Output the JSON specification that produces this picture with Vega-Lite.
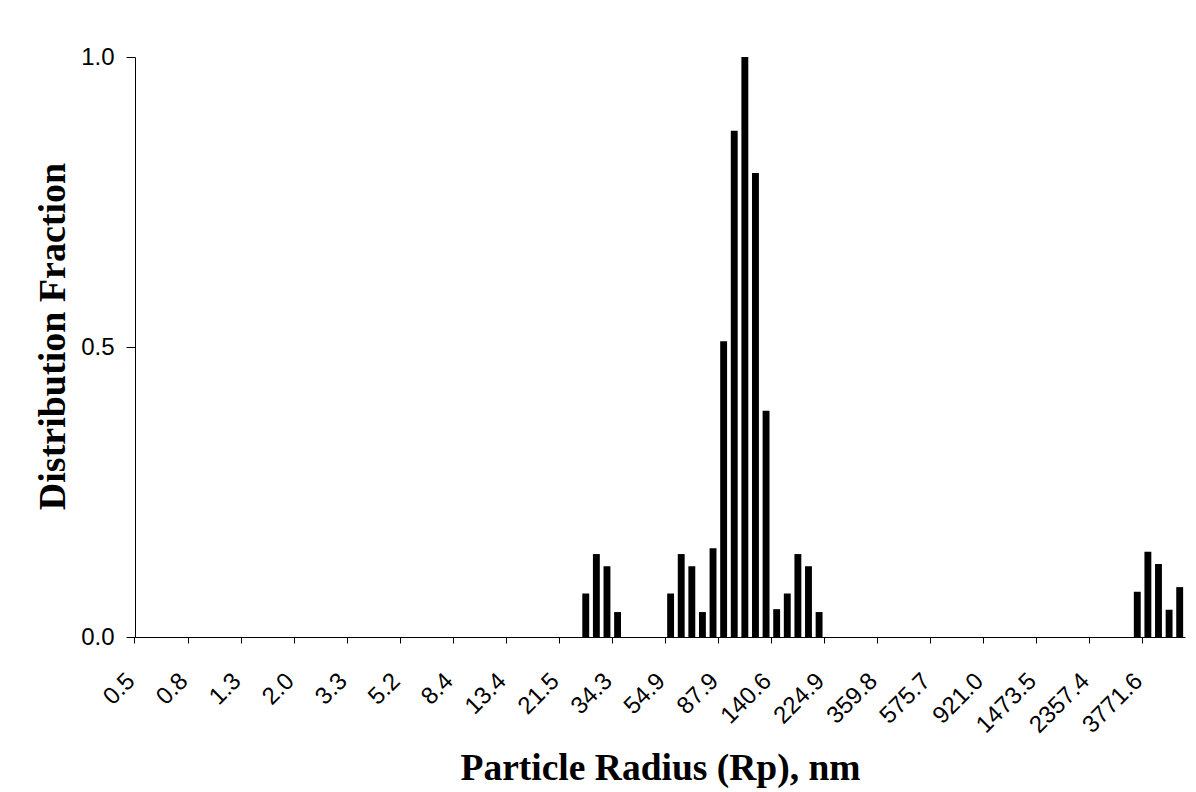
{
  "$schema": "https://vega.github.io/schema/vega-lite/v6.json",
  "width": 1050,
  "height": 580,
  "autosize": {"type": "none"},
  "padding": {"left": 135, "top": 57, "right": 11, "bottom": 155},
  "background": "white",
  "config": {"view": {"stroke": null}},
  "data": {"values": [
    {"radius": 0.5, "fraction": 0}, {"radius": 0.549, "fraction": 0}, {"radius": 0.603, "fraction": 0}, {"radius": 0.663, "fraction": 0}, {"radius": 0.728, "fraction": 0},
    {"radius": 0.8, "fraction": 0}, {"radius": 0.879, "fraction": 0}, {"radius": 0.965, "fraction": 0}, {"radius": 1.061, "fraction": 0}, {"radius": 1.165, "fraction": 0},
    {"radius": 1.28, "fraction": 0}, {"radius": 1.406, "fraction": 0}, {"radius": 1.544, "fraction": 0}, {"radius": 1.697, "fraction": 0}, {"radius": 1.864, "fraction": 0},
    {"radius": 2.047, "fraction": 0}, {"radius": 2.249, "fraction": 0}, {"radius": 2.471, "fraction": 0}, {"radius": 2.714, "fraction": 0}, {"radius": 2.981, "fraction": 0},
    {"radius": 3.276, "fraction": 0}, {"radius": 3.598, "fraction": 0}, {"radius": 3.953, "fraction": 0}, {"radius": 4.342, "fraction": 0}, {"radius": 4.77, "fraction": 0},
    {"radius": 5.24, "fraction": 0}, {"radius": 5.756, "fraction": 0}, {"radius": 6.324, "fraction": 0}, {"radius": 6.947, "fraction": 0}, {"radius": 7.632, "fraction": 0},
    {"radius": 8.384, "fraction": 0}, {"radius": 9.21, "fraction": 0}, {"radius": 10.117, "fraction": 0}, {"radius": 11.114, "fraction": 0}, {"radius": 12.209, "fraction": 0},
    {"radius": 13.412, "fraction": 0}, {"radius": 14.734, "fraction": 0}, {"radius": 16.186, "fraction": 0}, {"radius": 17.781, "fraction": 0}, {"radius": 19.533, "fraction": 0},
    {"radius": 21.458, "fraction": 0}, {"radius": 23.572, "fraction": 0}, {"radius": 25.895, "fraction": 0.075}, {"radius": 28.447, "fraction": 0.143}, {"radius": 31.25, "fraction": 0.122},
    {"radius": 34.329, "fraction": 0.043}, {"radius": 37.712, "fraction": 0}, {"radius": 41.428, "fraction": 0}, {"radius": 45.51, "fraction": 0}, {"radius": 49.995, "fraction": 0},
    {"radius": 54.921, "fraction": 0.075}, {"radius": 60.333, "fraction": 0.143}, {"radius": 66.278, "fraction": 0.122}, {"radius": 72.809, "fraction": 0.043}, {"radius": 79.984, "fraction": 0.153},
    {"radius": 87.865, "fraction": 0.51}, {"radius": 96.523, "fraction": 0.873}, {"radius": 106.035, "fraction": 1.0}, {"radius": 116.483, "fraction": 0.8}, {"radius": 127.962, "fraction": 0.39},
    {"radius": 140.57, "fraction": 0.048}, {"radius": 154.422, "fraction": 0.075}, {"radius": 169.639, "fraction": 0.143}, {"radius": 186.356, "fraction": 0.122}, {"radius": 204.72, "fraction": 0.043},
    {"radius": 224.89, "fraction": 0}, {"radius": 247.05, "fraction": 0}, {"radius": 271.4, "fraction": 0}, {"radius": 298.14, "fraction": 0}, {"radius": 327.52, "fraction": 0},
    {"radius": 359.79, "fraction": 0}, {"radius": 395.24, "fraction": 0}, {"radius": 434.19, "fraction": 0}, {"radius": 476.98, "fraction": 0}, {"radius": 523.98, "fraction": 0},
    {"radius": 575.7, "fraction": 0}, {"radius": 632.4, "fraction": 0}, {"radius": 694.7, "fraction": 0}, {"radius": 763.2, "fraction": 0}, {"radius": 838.4, "fraction": 0},
    {"radius": 921.0, "fraction": 0}, {"radius": 1011.8, "fraction": 0}, {"radius": 1111.5, "fraction": 0}, {"radius": 1221.0, "fraction": 0}, {"radius": 1341.3, "fraction": 0},
    {"radius": 1473.5, "fraction": 0}, {"radius": 1618.7, "fraction": 0}, {"radius": 1778.2, "fraction": 0}, {"radius": 1953.4, "fraction": 0}, {"radius": 2145.9, "fraction": 0},
    {"radius": 2357.4, "fraction": 0}, {"radius": 2589.7, "fraction": 0}, {"radius": 2844.9, "fraction": 0}, {"radius": 3125.2, "fraction": 0}, {"radius": 3433.2, "fraction": 0.078},
    {"radius": 3771.6, "fraction": 0.147}, {"radius": 4143.3, "fraction": 0.126}, {"radius": 4551.5, "fraction": 0.047}, {"radius": 5000.0, "fraction": 0.086}
  ]},
  "mark": {"type": "bar", "color": "black"},
  "encoding": {
    "x": {
      "field": "radius",
      "type": "ordinal",
      "scale": {"paddingInner": 0.35, "paddingOuter": 0.175},
      "axis": {
        "title": "Particle Radius (Rp), nm",
        "titleFont": "Liberation Serif",
        "titleFontWeight": "bold",
        "titleFontSize": 37.5,
        "titleColor": "black",
        "titlePadding": 12,
        "values": [0.5, 0.8, 1.28, 2.047, 3.276, 5.24, 8.384, 13.412, 21.458, 34.329, 54.921, 87.865, 140.57, 224.89, 359.79, 575.7, 921.0, 1473.5, 2357.4, 3771.6],
        "labelExpr": "format(datum.value, '.1f')",
        "labelAngle": -45,
        "labelAlign": "right",
        "labelBaseline": "middle",
        "labelFont": "Liberation Sans",
        "labelFontSize": 24,
        "labelColor": "black",
        "labelPadding": 34,
        "labelOffset": -9,
        "labelOverlap": false,
        "bandPosition": -0.27,
        "tickSize": 6,
        "tickColor": "black",
        "domainColor": "black",
        "grid": false
      }
    },
    "y": {
      "field": "fraction",
      "type": "quantitative",
      "scale": {"domain": [0, 1], "nice": false},
      "axis": {
        "title": "Distribution Fraction",
        "titleFont": "Liberation Serif",
        "titleFontWeight": "bold",
        "titleFontSize": 38,
        "titleColor": "black",
        "titlePadding": 8,
        "titleY": 279,
        "values": [0, 0.5, 1],
        "format": ".1f",
        "labelFont": "Liberation Sans",
        "labelFontSize": 24,
        "labelColor": "black",
        "labelPadding": 12,
        "tickSize": 9,
        "tickColor": "black",
        "domainColor": "black",
        "grid": false
      }
    }
  }
}
